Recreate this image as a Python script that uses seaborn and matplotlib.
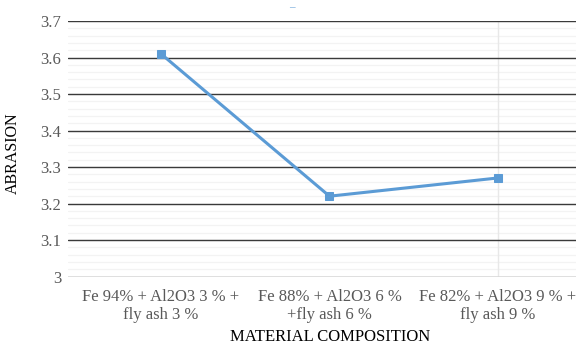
import matplotlib
matplotlib.use("Agg")
import matplotlib.pyplot as plt
import seaborn as sns
import pandas as pd
import numpy as np

categories = ["Fe 94% + Al2O3 3 % +\nfly ash 3 %",
              "Fe 88% + Al2O3 6 %\n+fly ash 6 %",
              "Fe 82% + Al2O3 9 % +\nfly ash 9 %"]
abrasion = [3.61, 3.22, 3.27]
yticks = [3.0, 3.1, 3.2, 3.3, 3.4, 3.5, 3.6, 3.7]
ytick_labels = ["3", "3.1", "3.2", "3.3", "3.4", "3.5", "3.6", "3.7"]

sns.set_style("white")
plt.rcParams['font.family'] = ['Liberation Serif', 'DejaVu Serif']

df = pd.DataFrame({"x": np.arange(len(categories)), "y": abrasion})

fig = plt.figure(figsize=(5.76, 3.45), dpi=100)
ax = fig.add_axes([68/576, 1-276.5/345, (576-68)/576, (276.5-21)/345])

# minor faint gridlines
for v in np.arange(3.0, 3.7001, 0.02):
    ax.axhline(v, color="#f3f3f3", lw=0.9, zorder=0)
# faint vertical line
ax.axvline(2, color="#e8e8e8", lw=1, zorder=0)
for v in yticks[1:]:
    ax.axhline(v, color="#3a3a3a", lw=1, zorder=1)
ax.axhline(3.0, color="#d9d9d9", lw=1.2, zorder=1)

sns.lineplot(data=df, x="x", y="y", ax=ax, color="#5b9bd5", lw=2.2,
             marker="s", markersize=5.5, markeredgecolor="#5b9bd5", zorder=3)

ax.set_xlim(-0.552, 2.463)
ax.set_ylim(3.0, 3.7)
ax.set_yticks(yticks)
ax.set_yticklabels(ytick_labels)
ax.set_xticks(range(len(categories)))
ax.set_xticklabels(categories, linespacing=1.2)
for s in ax.spines.values():
    s.set_visible(False)
ax.tick_params(axis="both", length=0, labelsize=12, labelcolor="#595959")
ax.tick_params(axis="y", pad=5)
ax.tick_params(axis="x", pad=9)
ax.set_xlabel("MATERIAL COMPOSITION", fontsize=12, color="black")
ax.set_ylabel("ABRASION", fontsize=11.5, color="black")
ax.xaxis.set_label_coords((330-68)/508, -(329-276.5)/255.5)
ax.yaxis.set_label_coords(-(68-21)/508, (276.5-153)/255.5)

fig.text(292/576, 1-8/345, "\u2013", color="#5b9bd5", fontsize=8, ha="center", va="center")

fig.savefig("out.png", dpi=100)
